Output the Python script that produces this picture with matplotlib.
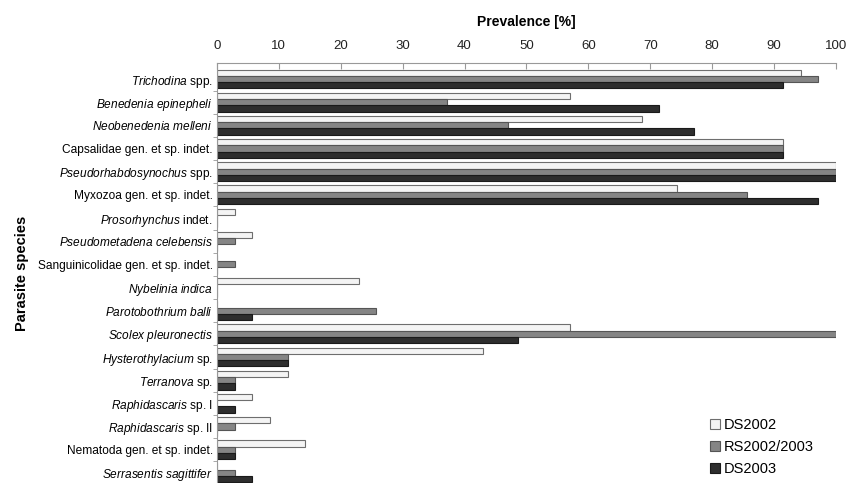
import matplotlib
matplotlib.use("Agg")
import matplotlib.pyplot as plt
import numpy as np

plt.rcParams["font.family"] = ["Liberation Sans", "DejaVu Sans"]
plt.rcParams["mathtext.fontset"] = "custom"
plt.rcParams["mathtext.rm"] = "Liberation Sans"
plt.rcParams["mathtext.it"] = "Liberation Sans:italic"

# species label: italic part, plain suffix
genus = [
    "Trichodina", "Benedenia epinepheli", "Neobenedenia melleni", "",
    "Pseudorhabdosynochus", "", "Prosorhynchus", "Pseudometadena celebensis",
    "", "Nybelinia indica", "Parotobothrium balli", "Scolex pleuronectis",
    "Hysterothylacium", "Terranova", "Raphidascaris", "Raphidascaris",
    "", "Serrasentis sagittifer",
]
suffix = [
    " spp.", "", "", "Capsalidae gen. et sp. indet.", " spp.",
    "Myxozoa gen. et sp. indet.", " indet.", "",
    "Sanguinicolidae gen. et sp. indet.", "", "", "", " sp.", " sp.",
    " sp. I", " sp. II", "Nematoda gen. et sp. indet.", "",
]

ds2002 = [94.3, 57.1, 68.6, 91.4, 100, 74.3, 2.9, 5.7, 0, 22.9, 0, 57.1,
          42.9, 11.4, 5.7, 8.6, 14.3, 0]
rs2002_2003 = [97.1, 37.1, 47.1, 91.4, 100, 85.7, 0, 2.9, 2.9, 0, 25.7, 100,
               11.4, 2.9, 0, 2.9, 2.9, 2.9]
ds2003 = [91.4, 71.4, 77.1, 91.4, 100, 97.1, 0, 0, 0, 0, 5.7, 48.6,
          11.4, 2.9, 2.9, 0, 2.9, 5.7]

series = [
    ("DS2002", ds2002, "#f4f4f4", "#6e6e6e"),
    ("RS2002/2003", rs2002_2003, "#858585", "#555555"),
    ("DS2003", ds2003, "#2e2e2e", "#1a1a1a"),
]


def make_label(it, rest):
    if not it:
        return rest
    return r"$\it{" + it.replace(" ", r"\ ") + "}$" + rest


labels = [make_label(g, s) for g, s in zip(genus, suffix)]

fig = plt.figure(figsize=(8.6, 4.83), dpi=100)
ax = fig.add_axes([0.2523, -0.003, 0.7197, 0.873])

y = np.arange(len(labels))
h = 0.27
for i, (name, vals, fc, ec) in enumerate(series):
    ax.barh(y + (i - 1) * h, vals, height=h, color=fc, edgecolor=ec,
            linewidth=0.8, label=name)

ax.set_xlim(0, 100)
ax.set_ylim(len(labels) - 0.5, -0.7)
ax.set_xticks(np.arange(0, 101, 10))
ax.xaxis.tick_top()
ax.xaxis.set_label_position("top")
ax.tick_params(axis="x", direction="in", length=4, color="#999999",
               labelsize=9.5, pad=8, labelcolor="#222222")
ax.set_xlabel("Prevalence [%]", fontsize=10, fontweight="bold", labelpad=10)

ax.set_yticks(y)
ax.set_yticklabels(labels, fontsize=8.6)
ax.set_yticks(np.arange(len(labels)) + 0.5, minor=True)
ax.tick_params(axis="y", which="major", length=0, pad=3)
ax.tick_params(axis="y", which="minor", length=3, color="#999999")
ax.set_ylabel("Parasite species", fontsize=10.5, fontweight="bold", labelpad=6)

for side in ("right", "bottom"):
    ax.spines[side].set_visible(False)
for side in ("top", "left"):
    ax.spines[side].set_color("#999999")

leg = ax.legend(loc="lower right", bbox_to_anchor=(0.986, -0.012), frameon=False,
                fontsize=10.5, handlelength=0.7, handleheight=0.7,
                handletextpad=0.25, labelspacing=0.55)

fig.savefig("out.png", dpi=100)
